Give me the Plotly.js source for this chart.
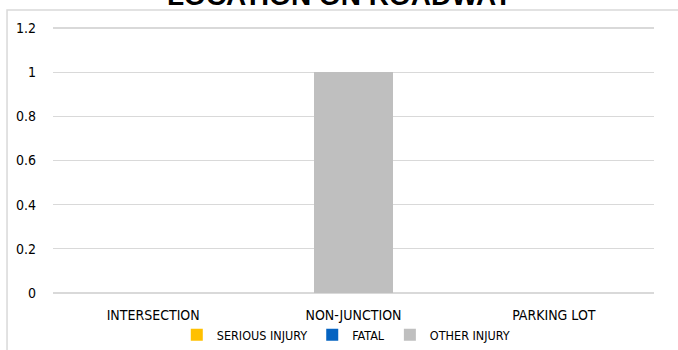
<!DOCTYPE html>
<html>
<head>
<meta charset="utf-8">
<script src="https://cdn.plot.ly/plotly-3.0.1.min.js"></script>
<style>html,body{margin:0;padding:0;background:#fff;}#chart{width:678px;height:350px;}</style>
</head>
<body>
<div id="chart"></div>
<script>
const categories = ["INTERSECTION", "NON-JUNCTION", "PARKING LOT"];
const seriousInjury = [0, 0, 0];
const fatal = [0, 0, 0];
const otherInjury = [0, 1, 0];
const tickValues = [0, 0.2, 0.4, 0.6, 0.8, 1, 1.2];
const tickLabels = ["0", "0.2", "0.4", "0.6", "0.8", "1", "1.2"];

const font = "'DejaVu Sans Condensed', 'Liberation Sans', sans-serif";

const traces = [
  {type: "bar", name: "SERIOUS INJURY", x: categories, y: seriousInjury, marker: {color: "#FFC000"}},
  {type: "bar", name: "FATAL", x: categories, y: fatal, marker: {color: "#0563C1"}},
  {type: "bar", name: "OTHER INJURY", x: categories, y: otherInjury, marker: {color: "#BFBFBF"}}
];

const layout = {
  width: 678, height: 350,
  margin: {l: 53, r: 24, t: 26, b: 55},
  paper_bgcolor: "#fff", plot_bgcolor: "#fff",
  barmode: "stack",
  bargap: 0.61,
  font: {family: font, size: 14, color: "#000"},
  showlegend: true,
  legend: {orientation: "h", x: 0.488, xanchor: "center", xref: "paper",
           yref: "container", y: 0.0, yanchor: "bottom", traceorder: "normal",
           bgcolor: "rgba(0,0,0,0)",
           font: {family: font, size: 12.5, color: "#000"}, itemwidth: 30, tracegroupgap: 0},
  xaxis: {showgrid: false, zeroline: false, showline: false, ticks: "", tickfont: {size: 14}, ticklabelstandoff: 10},
  yaxis: {range: [-0.01, 1.21], tickvals: tickValues, ticktext: tickLabels, showgrid: true,
          gridcolor: "#D9D9D9", gridwidth: 1.5, zeroline: true, zerolinecolor: "#D9D9D9", zerolinewidth: 1.5,
          showline: false, ticks: "", tickfont: {size: 14}, ticklabelstandoff: 16},
  shapes: [{type: "rect", xref: "paper", yref: "paper", x0: -0.0765, x1: 1.2, y0: -0.3, y1: 1.0595,
            line: {color: "#D9D9D9", width: 1.5}, fillcolor: "rgba(0,0,0,0)", layer: "below"}],
  annotations: [{text: "<b>LOCATION ON ROADWAY</b>", xref: "paper", yref: "paper", x: 0.4775, y: 1.048,
                 xanchor: "center", yanchor: "bottom", showarrow: false,
                 font: {family: "'Liberation Sans', sans-serif", size: 28, color: "#000"}}]
};

Plotly.newPlot("chart", traces, layout, {displayModeBar: false, staticPlot: true});
</script>
</body>
</html>
